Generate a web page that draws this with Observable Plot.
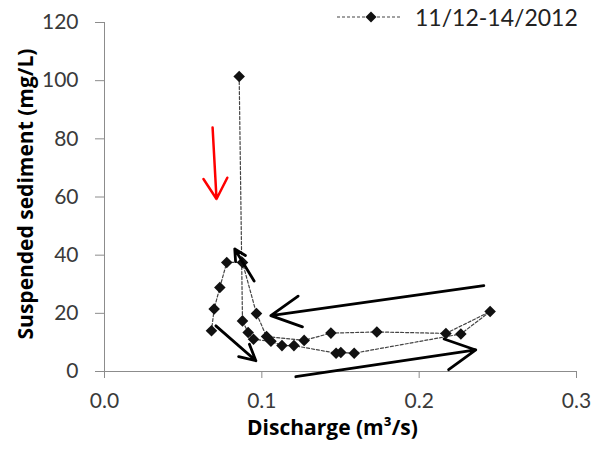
<!DOCTYPE html>
<html>
<head>
<meta charset="utf-8">
<script src="https://cdn.jsdelivr.net/npm/d3@7"></script>
<script src="https://cdn.jsdelivr.net/npm/@observablehq/plot@0.6"></script>
<style>
  html, body { margin: 0; padding: 0; background: #fff; }
  #wrap { position: relative; width: 596px; height: 451px; }
  #legend { position: absolute; left: 336px; top: 3px; display: flex; align-items: center;
            font-family: Lato, "Open Sans", sans-serif; font-size: 23px; color: #222; }
  #legend svg { margin-right: 12px; }
</style>
</head>
<body>
<div id="wrap">
  <div id="legend">
    <svg width="67" height="28">
      <line x1="1" x2="66" y1="14" y2="14" stroke="#444" stroke-width="1.2" stroke-dasharray="3,2"/>
      <path d="M35,8.5L40.5,14L35,19.5L29.5,14Z" fill="#111"/>
    </svg>
    <span>11/12-14/2012</span>
  </div>
</div>
<script>
// Storm event 11/12-14/2012: discharge (m³/s) vs suspended sediment (mg/L), in sampling order
const discharge = [0.0856, 0.0877, 0.0913, 0.0947, 0.1058, 0.1128, 0.1204, 0.1472, 0.1502, 0.1587,
                   0.2265, 0.2451, 0.2170, 0.1731, 0.1439, 0.1269, 0.1030, 0.0966, 0.0877, 0.0777,
                   0.0733, 0.0697, 0.0680];
const sediment  = [101.4, 17.4, 13.4, 11.1, 10.4, 8.9, 8.9, 6.3, 6.5, 6.3,
                   12.9, 20.6, 13.1, 13.6, 13.2, 10.7, 12.0, 19.9, 37.5, 37.5,
                   28.9, 21.5, 14.0];

const xTicks = [0, 0.1, 0.2, 0.3];
const yTicks = [0, 20, 40, 60, 80, 100, 120];

// Hysteresis direction arrows (start -> end, data units)
const arrowX1 = [0.0708, 0.1216, 0.2411, 0.0951];
const arrowY1 = [15.7, -1.8, 29.5, 31.1];
const arrowX2 = [0.0962, 0.2360, 0.1057, 0.0828];
const arrowY2 = [3.7, 7.4, 19.2, 42.1];

// Marker for the falling limb after the peak
const redX1 = [0.0687], redY1 = [83.9], redX2 = [0.0712], redY2 = [59.3];

const points = discharge.map((q, i) => ({q, s: sediment[i]}));
const arrows = arrowX1.map((x1, i) => ({x1, y1: arrowY1[i], x2: arrowX2[i], y2: arrowY2[i]}));
const redArrow = redX1.map((x1, i) => ({x1, y1: redY1[i], x2: redX2[i], y2: redY2[i]}));

const titleFont = "'Open Sans', Lato, sans-serif";

const chart = Plot.plot({
  width: 596,
  height: 451,
  marginLeft: 104,
  marginRight: 20,
  marginTop: 22,
  marginBottom: 80,
  style: {fontFamily: "Lato, 'Open Sans', sans-serif", fontSize: "21px", color: "#333", background: "transparent"},
  x: {domain: [0, 0.3]},
  y: {domain: [0, 120]},
  marks: [
    Plot.axisY({ticks: yTicks, tickSize: 9, tickPadding: 17, stroke: "#8c8c8c", fill: "#3a3a3a", label: null}),
    Plot.axisX({ticks: xTicks, tickFormat: d3.format(".1f"), tickSize: 7, tickPadding: 15, stroke: "#8c8c8c", fill: "#3a3a3a", label: null}),
    Plot.ruleX([0], {stroke: "#8c8c8c"}),
    Plot.ruleY([0], {stroke: "#8c8c8c"}),
    Plot.line(points, {x: "q", y: "s", stroke: "#444", strokeWidth: 1.2, strokeDasharray: "3,2"}),
    Plot.dot(points, {x: "q", y: "s", symbol: "diamond2", r: 5.2, fill: "#111", stroke: "none"}),
    Plot.arrow(arrows, {x1: "x1", y1: "y1", x2: "x2", y2: "y2", stroke: "#000", strokeWidth: 2.8, headLength: 18, headAngle: 55}),
    Plot.arrow(redArrow, {x1: "x1", y1: "y1", x2: "x2", y2: "y2", stroke: "#f00", strokeWidth: 2.5, headLength: 18, headAngle: 60}),
    Plot.text(["Suspended sediment (mg/L)"], {frameAnchor: "left", textAnchor: "middle", dx: -78, dy: -3, rotate: -90, fontWeight: "bold", fontSize: 21, fontFamily: titleFont, fill: "#000"}),
    Plot.text(["Discharge (m³/s)"], {frameAnchor: "bottom", textAnchor: "middle", dx: -8, dy: 63, fontWeight: "bold", fontSize: 21, fontFamily: titleFont, fill: "#000"})
  ]
});

document.getElementById("wrap").prepend(chart);
</script>
</body>
</html>
